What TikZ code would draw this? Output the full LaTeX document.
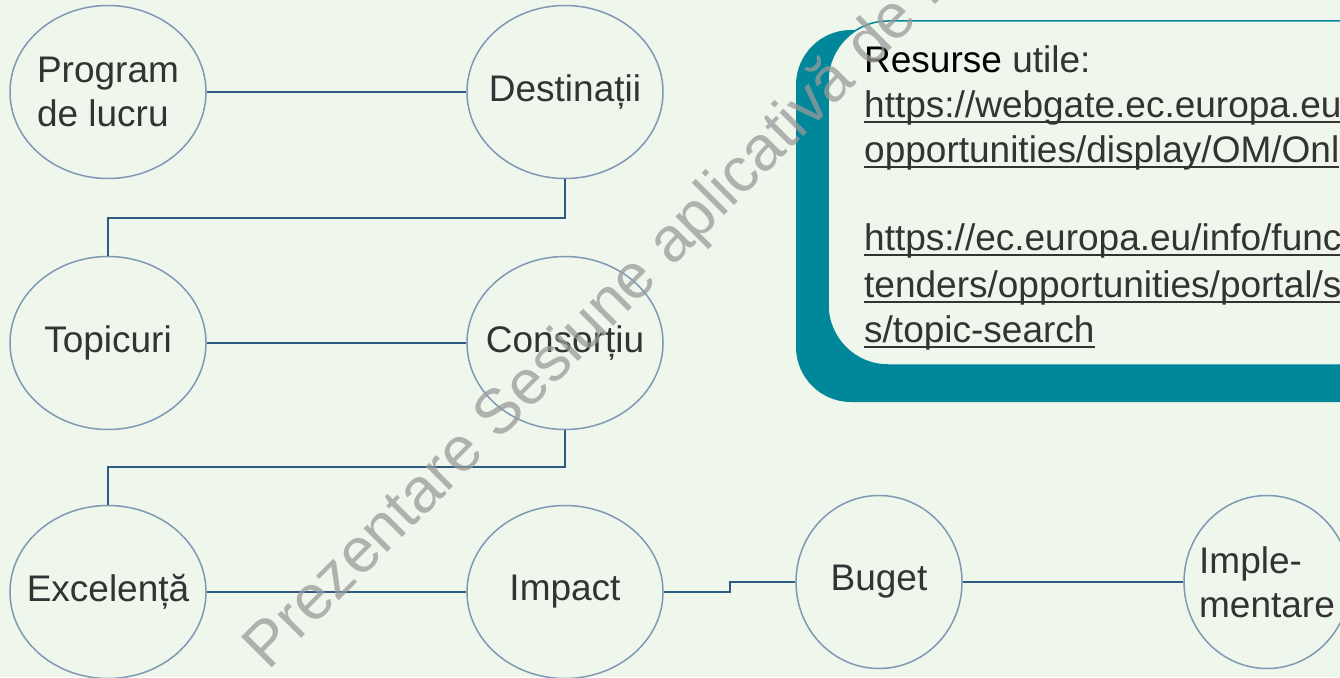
\documentclass[tikz,border=0pt]{standalone}
\usepackage{fontspec}
\setmainfont{Liberation Sans}
\usetikzlibrary{shapes.geometric}
\definecolor{bgmint}{HTML}{EFF6EC}
\definecolor{ringblue}{HTML}{7E99B6}
\definecolor{linkblue}{HTML}{2D5B82}
\definecolor{tealc}{HTML}{00889A}
\definecolor{inkgray}{HTML}{333333}
\definecolor{wmgray}{HTML}{9A9A9A}
\begin{document}
\begin{tikzpicture}[x=1pt,y=-1pt,
    stage/.style={ellipse,draw=ringblue,line width=1.5pt,minimum width=196pt,minimum height=173pt,
        inner xsep=-30pt,inner ysep=-10pt,align=left,text=inkgray,font=\fontsize{37}{44}\selectfont},
    link/.style={draw=linkblue,line width=2pt},
    res/.style={anchor=base west,inner sep=0pt,text=inkgray,font=\fontsize{37}{44}\selectfont},
    uline/.style={draw=inkgray,line width=2pt}]
    \useasboundingbox (0,0) rectangle (1340,677);
    \clip (0,0) rectangle (1340,677);
    \fill[bgmint] (0,0) rectangle (1340,677);
    \node[stage] (prog) at (108,92) {Program\\de lucru};
    \node[stage] (dest) at (565,92) {Destinații};
    \node[stage] (topic) at (108,343) {Topicuri};
    \node[stage] (cons) at (565,343) {Consorțiu};
    \node[stage] (exc) at (108,592) {Excelență};
    \node[stage] (imp) at (565,592) {Impact};
    \node[stage,minimum width=166pt] (bug) at (879,582) {Buget};
    \node[stage,minimum width=166pt] (impl) at (1267,582) {Imple-\\mentare};
    \draw[link] (prog.east) -- (dest.west);
    \draw[link] (dest.south) -- ++(0,39) -| (topic.north);
    \draw[link] (topic.east) -- (cons.west);
    \draw[link] (cons.south) -- ++(0,37) -| (exc.north);
    \draw[link] (exc.east) -- (imp.west);
    \draw[link] (imp.east) -- ++(66,0) |- (bug.west);
    \draw[link] (bug.east) -- (impl.west);
    \fill[tealc,rounded corners=55pt] (796,30) rectangle (1420,402);
    \draw[tealc,fill=bgmint,line width=1.5pt,rounded corners=60pt] (828,21) rectangle (1420,365);
    \node[res] (r0) at (864,73) {\textcolor{black}{Resurse} utile:};
    \node[res] (r1) at (864,117) {https://webgate.ec.europa.eu};
    \node[res] (r2) at (864,162) {opportunities/display/OM/Onl};
    \node[res] (r3) at (864,250) {https://ec.europa.eu/info/func};
    \node[res] (r4) at (864,297) {tenders/opportunities/portal/s};
    \node[res] (r5) at (864,342) {s/topic-search};
    \foreach \n in {r1,r2,r3,r4,r5}
        \draw[uline] ([yshift=-5pt]\n.base west) -- ([yshift=-5pt]\n.base east);
    \node[anchor=base west,rotate=45,text=wmgray,opacity=0.75,font=\fontsize{63}{63}\selectfont]
        (wm) at (266,674) {Prezentare Sesiune aplicativă de lucru};
\end{tikzpicture}
\end{document}
